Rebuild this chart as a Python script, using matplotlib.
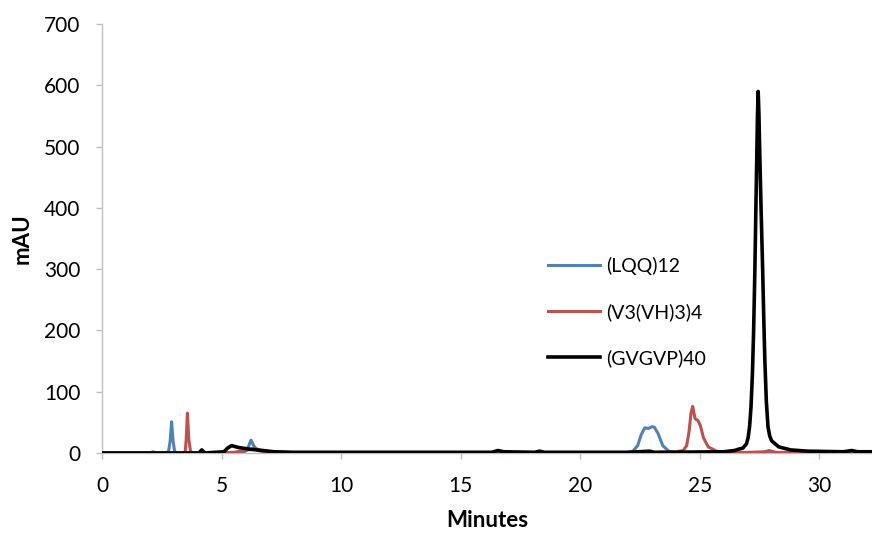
import matplotlib.pyplot as plt

plt.rcParams['font.family'] = ['Lato', 'DejaVu Sans']

# chromatogram traces, time (min) vs absorbance (mAU)
t_lqq = [0, 2.5, 2.7, 2.78, 2.85, 2.91, 2.97, 3.04, 3.2, 5.8, 6.0, 6.12, 6.23, 6.34, 6.5, 6.8, 8,
         15, 20, 21.9, 22.2, 22.4, 22.55, 22.7, 22.85, 23.0, 23.1, 23.25, 23.45, 23.7, 24, 25, 26, 33]
y_lqq = [0, 0, 1, 2, 20, 51, 20, 2, 0, 0, 3, 10, 21, 12, 4, 2, 1,
         1, 1, 1, 3, 12, 30, 41, 40, 43, 42, 32, 12, 3, 1, 1, 0.5, 0.5]

t_vh = [0, 2.0, 2.13, 2.25, 3.4, 3.48, 3.52, 3.57, 3.63, 3.7, 3.8, 4.5, 5.5, 6.1, 6.4, 6.7, 7.2, 8,
        15, 20, 23, 24.0, 24.3, 24.45, 24.55, 24.63, 24.7, 24.8, 24.92, 25.02, 25.15, 25.35, 25.7, 26,
        27, 27.7, 27.9, 28.2, 31, 31.3, 31.6, 33]
y_vh = [0, 0, 2, 0, 0, 3, 22, 65, 22, 3, 0, 0, 1, 5, 8, 3, 1, 1,
        1, 1, 1, 2, 4, 12, 35, 65, 76, 56, 53, 45, 25, 10, 3, 1,
        1, 2, 4, 1, 1, 3, 1, 1]

t_gvgvp = [0, 4.05, 4.17, 4.3, 5.1, 5.25, 5.42, 5.7, 6.2, 6.5, 7.2, 8, 10, 15, 16.3, 16.55, 16.8,
           18.1, 18.3, 18.5, 22, 22.9, 23.1, 26, 26.45, 26.6, 26.8, 26.95, 27.02, 27.08, 27.14, 27.2,
           27.25, 27.3, 27.34, 27.38, 27.41, 27.44, 27.47, 27.5, 27.56, 27.63, 27.68, 27.72, 27.78,
           27.85, 27.92, 28.0, 28.3, 28.8, 29.5, 31, 31.35, 31.6, 33]
y_gvgvp = [0, 0, 5, 0, 2, 8, 12, 9, 6, 5, 2, 1, 1, 1, 1, 4, 2,
           1, 3, 1, 1, 3, 1, 2, 4, 6, 8, 15, 25, 43, 75, 130,
           200, 295, 390, 480, 550, 590, 555, 500, 400, 295, 210, 150, 85,
           43, 28, 20, 10, 5, 3, 2, 4, 2, 2]

series = [
    ('(LQQ)12', t_lqq, y_lqq, '#4F81BD', 2.2),
    ('(V3(VH)3)4', t_vh, y_vh, '#C0504D', 2.2),
    ('(GVGVP)40', t_gvgvp, y_gvgvp, '#000000', 2.6),
]

fig = plt.figure(figsize=(8.72, 5.34), dpi=100)
ax = fig.add_axes([0.117, 0.1517, 0.883, 0.8033])

for name, t, y, c, lw in series:
    ax.plot(t, y, color=c, lw=lw, label=name, solid_joinstyle='round')

ax.set_xlim(0, 32.2)
ax.set_ylim(0, 700)
ax.set_xticks(range(0, 35, 5))
ax.set_yticks(range(0, 800, 100))

for s in ['top', 'right']:
    ax.spines[s].set_visible(False)
for s in ['left', 'bottom']:
    ax.spines[s].set_color('#BFBFBF')
    ax.spines[s].set_linewidth(1.0)
    ax.spines[s].set_zorder(0)
ax.tick_params(axis='both', colors='#BFBFBF', labelcolor='black', labelsize=15,
               length=4.5, width=1.0, direction='out')
ax.tick_params(axis='y', pad=11)
ax.tick_params(axis='x', pad=12)

ax.set_xlabel('Minutes', fontsize=16, fontweight='bold', labelpad=10)
ax.set_ylabel('mAU', fontsize=16, fontweight='bold', labelpad=8)

ax.legend(loc='upper left', bbox_to_anchor=(0.579, 0.457), frameon=False, fontsize=14,
          borderaxespad=0, borderpad=0, handlelength=2.7, handletextpad=0.3,
          labelspacing=1.45)

fig.savefig('out.png', dpi=100)
